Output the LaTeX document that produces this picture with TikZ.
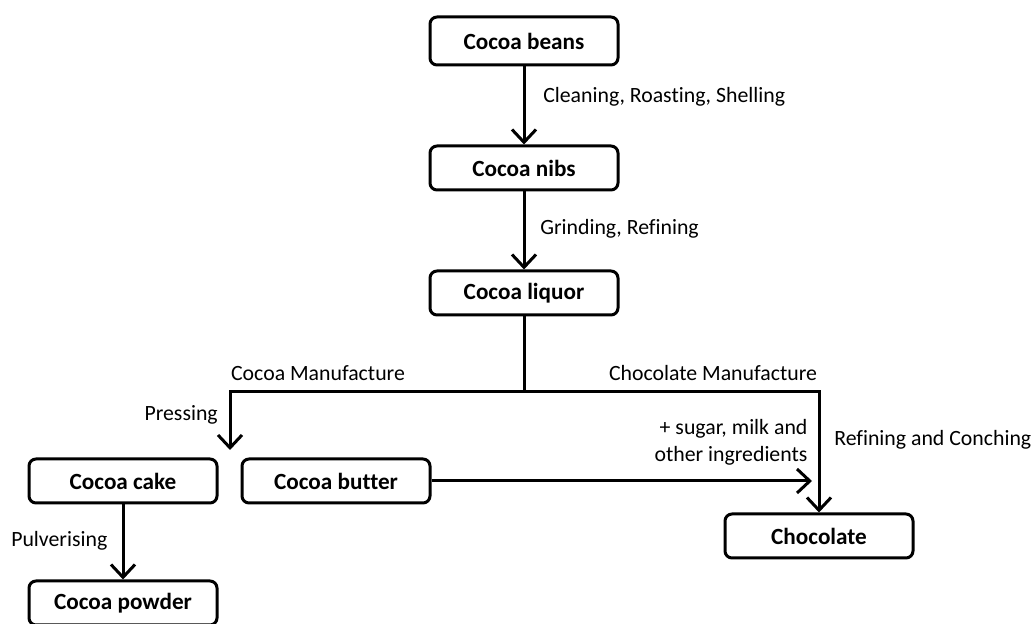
\documentclass[tikz,border=0pt]{standalone}
\usepackage{fontspec}
\setmainfont{Carlito}[Ligatures=NoCommon]
\usepackage{tikz}
\usetikzlibrary{arrows.meta}
\tikzset{
   box/.style ={
      rectangle, draw, rounded corners=1.75mm, line width=0.75mm,
      minimum width=47mm, minimum height=11mm,
      font=\fontsize{16.5}{18}\selectfont\bfseries,
   },
   lbl/.style ={
      font=\fontsize{15.5}{19}\selectfont, inner sep=0pt,
   },
   line/.style ={
      -, line width=0.75mm, color=black,
   },
   arrow/.style ={
      -{Straight Barb[length=3.2mm,width=6mm]}, line width=0.75mm, color=black,
   },
}

\begin{document}
\begin{tikzpicture}

      \useasboundingbox (0mm,0mm) rectangle (258mm,-156mm);

      \node[box, minimum height=12mm] (beans) at (131mm,-10.25mm){Cocoa beans};
      \node[box] (nibs)   at (131mm,-42mm){Cocoa nibs};
      \node[box] (liquor) at (131mm,-73.25mm){Cocoa liquor};
      \node[box] (cake)   at (30.75mm,-120.25mm){Cocoa cake};
      \node[box] (butter) at (84mm,-120.25mm){Cocoa butter};
      \node[box] (powder) at (30.75mm,-150.75mm){Cocoa powder};
      \node[box] (choc)   at (204.75mm,-134mm){Chocolate};

      \coordinate (split) at (131mm,-98mm);
      \coordinate (press) at (57.5mm,-112.5mm);
      \coordinate (mix)   at (203mm,-120.25mm);

      % step labels
      \node[lbl, anchor=west] (clean) at (135.75mm,-24.25mm){Cleaning, Roasting, Shelling};
      \node[lbl, anchor=west] (grind) at (135mm,-57.25mm){Grinding, Refining};
      \node[lbl] (cocoaman) at (79.5mm,-93.25mm){Cocoa Manufacture};
      \node[lbl] (chocman)  at (178.25mm,-93.25mm){Chocolate Manufacture};
      \node[lbl, anchor=east] (pressing) at (54.5mm,-103.75mm){Pressing};
      \node[lbl, align=right] (sugar) at (182.75mm,-110.5mm){+ sugar, milk and\\other ingredients};
      \node[lbl, anchor=west] (conch) at (208.5mm,-110mm){Refining and Conching};
      \node[lbl, anchor=west] (pulv)  at (2.75mm,-135.25mm){Pulverising};

      \draw[arrow] (beans.south)  -- (nibs.north);
      \draw[arrow] (nibs.south)   -- (liquor.north);
      \draw[line]  (liquor.south) -- (split);
      \draw[arrow] (split) -| (press);
      \draw[arrow] (split) -| (choc.north);
      \draw[arrow] (butter.east)  -- (mix);
      \draw[arrow] (cake.south)   -- (powder.north);

\end{tikzpicture}
\end{document}
